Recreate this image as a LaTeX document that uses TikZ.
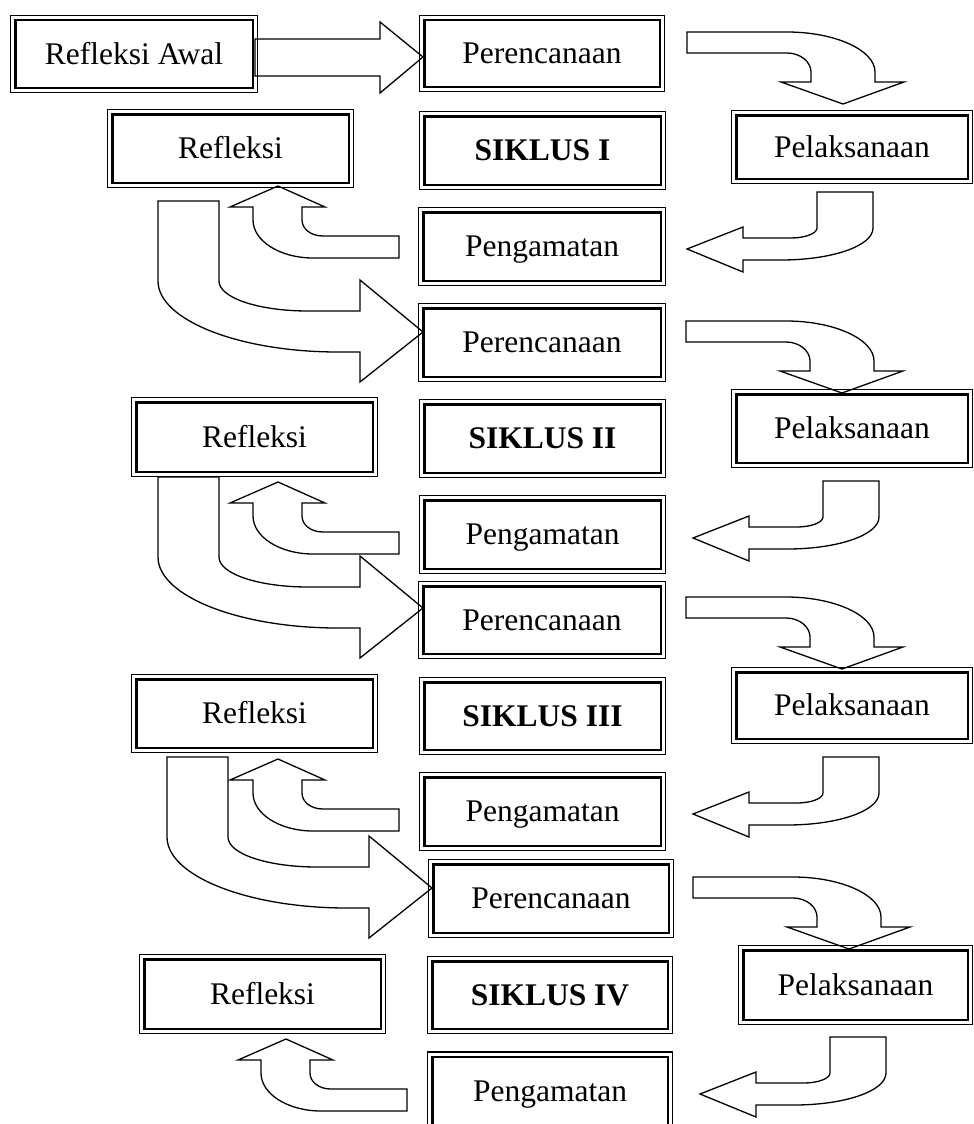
\documentclass[tikz,border=0pt]{standalone}
\usepackage{fontspec}
\setmainfont{Liberation Serif}
\newcommand\mkbox[6]{\node[bx, minimum width=#4, minimum height=#5] (#1) at (#2,#3) {#6};}
\begin{document}
\begin{tikzpicture}[x=1pt,y=-1pt,
  blk/.style={draw, fill=white, line width=1.3pt, line join=miter},
  bx/.style={draw, line width=1.4pt, inner sep=0pt,
    font=\fontsize{31.5}{36}\selectfont, text height=28.3pt, text depth=7.5pt},
  arrA/.pic={\draw[blk] (0,0) -- (100,0) .. controls (148,0) and (188,18) .. (188,40) -- (188,50) -- (217,50) -- (156,72) -- (94,50) -- (124,50) -- (124,40) .. controls (124,29.5) and (113,21) .. (100,21) -- (0,21) -- cycle;},
  arrB/.pic={\draw[blk] (0,0) -- (56,0) -- (56,36) .. controls (56,54) and (15,68) .. (-36,68) -- (-74,68) -- (-74,80) -- (-130,57) -- (-74,35) -- (-74,46) -- (-26,46) .. controls (-12,46) and (0,41.5) .. (0,36) -- cycle;},
  arrC/.pic={\draw[blk] (0,0) -- (47,21) -- (24,21) -- (24,34) .. controls (24,43) and (33,50) .. (45,50) -- (121,50) -- (121,72) -- (35,72) .. controls (2,72) and (-25,55) .. (-25,34) -- (-25,21) -- (-48,21) -- cycle;},
  arrD/.pic={\draw[blk] (0,0) -- (61,0) -- (61,80) .. controls (61,97) and (101,110) .. (150,110) -- (202,110) -- (202,79) -- (265,131) -- (202,181) -- (202,151) -- (180,151) .. controls (81,151) and (0,119) .. (0,80) -- cycle;}
]
\clip (0,0) rectangle (974,1124);
% block arrows
\draw[blk] (255,39) -- (380,39) -- (380,22) -- (423,57) -- (380,93) -- (380,76) -- (255,76) -- cycle;
\pic at (687,32) {arrA};
\pic at (686,321) {arrA};
\pic at (686,597) {arrA};
\pic at (693,877) {arrA};
\pic at (817,192) {arrB};
\pic at (823,481) {arrB};
\pic at (823,757) {arrB};
\pic at (830,1037) {arrB};
\pic at (278,186) {arrC};
\pic at (278,482) {arrC};
\pic at (278,759) {arrC};
\pic at (286,1039) {arrC};
\pic at (158,201) {arrD};
\pic at (158,477) {arrD};
\pic at (167,757) {arrD};
% boxes
\mkbox{ra}{134}{54}{247}{77}{Refleksi Awal}
\mkbox{p1}{542}{53.5}{245}{76}{Perencanaan}
\mkbox{r1}{230.5}{148.5}{246}{78}{Refleksi}
\mkbox{s1}{542.5}{150.5}{246}{78}{\bfseries SIKLUS I}
\mkbox{l1}{852}{147}{241}{73}{Pelaksanaan}
\mkbox{g1}{542}{246.5}{247}{78}{Pengamatan}
\mkbox{p2}{542}{342.5}{247}{78}{Perencanaan}
\mkbox{r2}{254.5}{437}{246}{79}{Refleksi}
\mkbox{s2}{542.5}{438.5}{246}{78}{\bfseries SIKLUS II}
\mkbox{l2}{852}{428.5}{241}{78}{Pelaksanaan}
\mkbox{g2}{542.5}{534.5}{246}{78}{Pengamatan}
\mkbox{p3}{542}{620}{247}{77}{Perencanaan}
\mkbox{r3}{254.5}{713.5}{246}{78}{Refleksi}
\mkbox{s3}{542.5}{716}{246}{77}{\bfseries SIKLUS III}
\mkbox{l3}{852}{705.5}{241}{76}{Pelaksanaan}
\mkbox{g3}{542.5}{811.5}{246}{78}{Pengamatan}
\mkbox{p4}{551}{898.5}{245}{78}{Perencanaan}
\mkbox{r4}{262.5}{994}{246}{79}{Refleksi}
\mkbox{s4}{550}{995}{245}{77}{\bfseries SIKLUS IV}
\mkbox{l4}{855.5}{985}{234}{79}{Pelaksanaan}
\mkbox{g4}{550}{1091}{245}{78}{Pengamatan}
\foreach \n in {ra,p1,r1,s1,l1,g1,p2,r2,s2,l2,g2,p3,r3,s3,l3,g3,p4,r4,s4,l4,g4}
  \draw[line width=2.4pt] ([shift={(5.5,5.5)}]\n.north west) rectangle ([shift={(-5.5,-5.5)}]\n.south east);
\end{tikzpicture}
\end{document}
